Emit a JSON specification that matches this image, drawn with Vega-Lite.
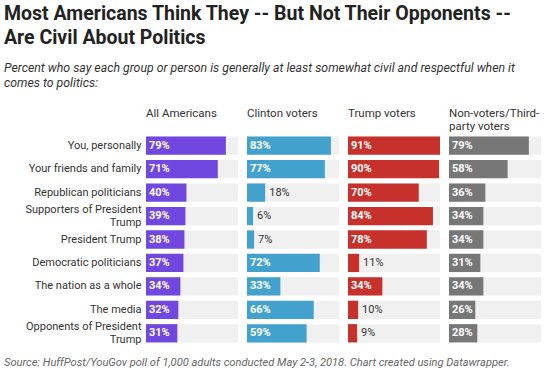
{
  "$schema": "https://vega.github.io/schema/vega-lite/v6.json",
  "padding": {"left": 4, "top": 3, "right": 5, "bottom": 4},
  "background": "white",
  "title": {
    "text": ["Most Americans Think They -- But Not Their Opponents --", "Are Civil About Politics"],
    "subtitle": ["Percent who say each group or person is generally at least somewhat civil and respectful when it", "comes to politics:"],
    "anchor": "start",
    "frame": "bounds",
    "font": "Roboto",
    "fontSize": 19.5,
    "fontWeight": "bold",
    "color": "#222222",
    "lineHeight": 24,
    "subtitleFont": "Roboto",
    "subtitleFontSize": 12.3,
    "subtitleFontStyle": "italic",
    "subtitleColor": "#333333",
    "subtitleLineHeight": 15,
    "subtitlePadding": 14,
    "offset": 17
  },
  "vconcat": [
    {
      "data": {
        "values": [
          {"group": "You, personally", "col": "All Americans", "pct": 0.79},
          {"group": "Your friends and family", "col": "All Americans", "pct": 0.71},
          {"group": "Republican politicians", "col": "All Americans", "pct": 0.40},
          {"group": "Supporters of President Trump", "col": "All Americans", "pct": 0.39},
          {"group": "President Trump", "col": "All Americans", "pct": 0.38},
          {"group": "Democratic politicians", "col": "All Americans", "pct": 0.37},
          {"group": "The nation as a whole", "col": "All Americans", "pct": 0.34},
          {"group": "The media", "col": "All Americans", "pct": 0.32},
          {"group": "Opponents of President Trump", "col": "All Americans", "pct": 0.31},
          {"group": "You, personally", "col": "Clinton voters", "pct": 0.83},
          {"group": "Your friends and family", "col": "Clinton voters", "pct": 0.77},
          {"group": "Republican politicians", "col": "Clinton voters", "pct": 0.18},
          {"group": "Supporters of President Trump", "col": "Clinton voters", "pct": 0.06},
          {"group": "President Trump", "col": "Clinton voters", "pct": 0.07},
          {"group": "Democratic politicians", "col": "Clinton voters", "pct": 0.72},
          {"group": "The nation as a whole", "col": "Clinton voters", "pct": 0.33},
          {"group": "The media", "col": "Clinton voters", "pct": 0.66},
          {"group": "Opponents of President Trump", "col": "Clinton voters", "pct": 0.59},
          {"group": "You, personally", "col": "Trump voters", "pct": 0.91},
          {"group": "Your friends and family", "col": "Trump voters", "pct": 0.90},
          {"group": "Republican politicians", "col": "Trump voters", "pct": 0.70},
          {"group": "Supporters of President Trump", "col": "Trump voters", "pct": 0.84},
          {"group": "President Trump", "col": "Trump voters", "pct": 0.78},
          {"group": "Democratic politicians", "col": "Trump voters", "pct": 0.11},
          {"group": "The nation as a whole", "col": "Trump voters", "pct": 0.34},
          {"group": "The media", "col": "Trump voters", "pct": 0.10},
          {"group": "Opponents of President Trump", "col": "Trump voters", "pct": 0.09},
          {"group": "You, personally", "col": "Non-voters/Third-party voters", "pct": 0.79},
          {"group": "Your friends and family", "col": "Non-voters/Third-party voters", "pct": 0.58},
          {"group": "Republican politicians", "col": "Non-voters/Third-party voters", "pct": 0.36},
          {"group": "Supporters of President Trump", "col": "Non-voters/Third-party voters", "pct": 0.34},
          {"group": "President Trump", "col": "Non-voters/Third-party voters", "pct": 0.34},
          {"group": "Democratic politicians", "col": "Non-voters/Third-party voters", "pct": 0.31},
          {"group": "The nation as a whole", "col": "Non-voters/Third-party voters", "pct": 0.34},
          {"group": "The media", "col": "Non-voters/Third-party voters", "pct": 0.26},
          {"group": "Opponents of President Trump", "col": "Non-voters/Third-party voters", "pct": 0.28}
        ]
      },
      "title": {
        "text": "Source: HuffPost/YouGov poll of 1,000 adults conducted May 2-3, 2018. Chart created using Datawrapper.",
        "orient": "bottom",
        "anchor": "start",
        "frame": "bounds",
        "font": "Roboto",
        "fontSize": 11.1,
        "fontStyle": "italic",
        "fontWeight": "normal",
        "color": "#666666",
        "offset": 12
      },
      "spacing": 9,
      "facet": {
        "column": {
          "field": "col",
          "type": "nominal",
          "sort": ["All Americans", "Clinton voters", "Trump voters", "Non-voters/Third-party voters"],
          "header": {
            "title": null,
            "labelAlign": "left",
            "labelAnchor": "start",
            "labelBaseline": "top",
            "labelFont": "Roboto",
            "labelFontSize": 11.5,
            "labelColor": "#333333",
            "labelLineHeight": 13,
            "labelPadding": 2,
            "labelExpr": "datum.value == 'Non-voters/Third-party voters' ? ['Non-voters/Third-', 'party voters'] : [datum.value, '']"
          }
        }
      },
      "spec": {
        "width": 92,
        "height": 211,
        "encoding": {
          "y": {
            "field": "group",
            "type": "nominal",
            "sort": ["You, personally", "Your friends and family", "Republican politicians", "Supporters of President Trump", "President Trump", "Democratic politicians", "The nation as a whole", "The media", "Opponents of President Trump"],
            "scale": {"paddingInner": 0.22, "paddingOuter": 0.11},
            "axis": {
              "title": null,
              "domain": false,
              "ticks": false,
              "grid": false,
              "labelFont": "Roboto",
              "labelFontSize": 11,
              "labelColor": "#333333",
              "labelPadding": 5,
              "labelLineHeight": 13,
              "minExtent": 142,
              "maxExtent": 142,
              "labelOffset": {"condition": {"test": "datum.value == 'Supporters of President Trump' || datum.value == 'Opponents of President Trump'", "value": -6.5}, "value": 0},
              "labelExpr": "datum.value == 'Supporters of President Trump' ? ['Supporters of President', 'Trump'] : datum.value == 'Opponents of President Trump' ? ['Opponents of President', 'Trump'] : datum.value"
            }
          }
        },
        "layer": [
          {
            "mark": {"type": "bar", "color": "#f0f0f0"},
            "encoding": {
              "x": {"datum": 0.91, "type": "quantitative", "scale": {"domain": [0, 0.91], "nice": false, "zero": true}, "axis": null}
            }
          },
          {
            "mark": {"type": "bar"},
            "encoding": {
              "x": {"field": "pct", "type": "quantitative"},
              "color": {
                "field": "col",
                "type": "nominal",
                "scale": {
                  "domain": ["All Americans", "Clinton voters", "Trump voters", "Non-voters/Third-party voters"],
                  "range": ["#7047df", "#42a2cd", "#c6322b", "#777777"]
                },
                "legend": null
              }
            }
          },
          {
            "transform": [{"filter": "datum.pct >= 0.2"}],
            "mark": {"type": "text", "align": "left", "baseline": "middle", "dx": 3, "font": "Roboto", "fontSize": 11, "fontWeight": "bold", "color": "white"},
            "encoding": {
              "x": {"datum": 0, "type": "quantitative"},
              "text": {"field": "pct", "type": "quantitative", "format": ".0%"}
            }
          },
          {
            "transform": [{"filter": "datum.pct < 0.2"}],
            "mark": {"type": "text", "align": "left", "baseline": "middle", "dx": 4, "font": "Roboto", "fontSize": 11, "color": "#333333"},
            "encoding": {
              "x": {"field": "pct", "type": "quantitative"},
              "text": {"field": "pct", "type": "quantitative", "format": ".0%"}
            }
          }
        ]
      }
    }
  ],
  "config": {
    "view": {"stroke": null},
    "font": "Roboto"
  }
}
